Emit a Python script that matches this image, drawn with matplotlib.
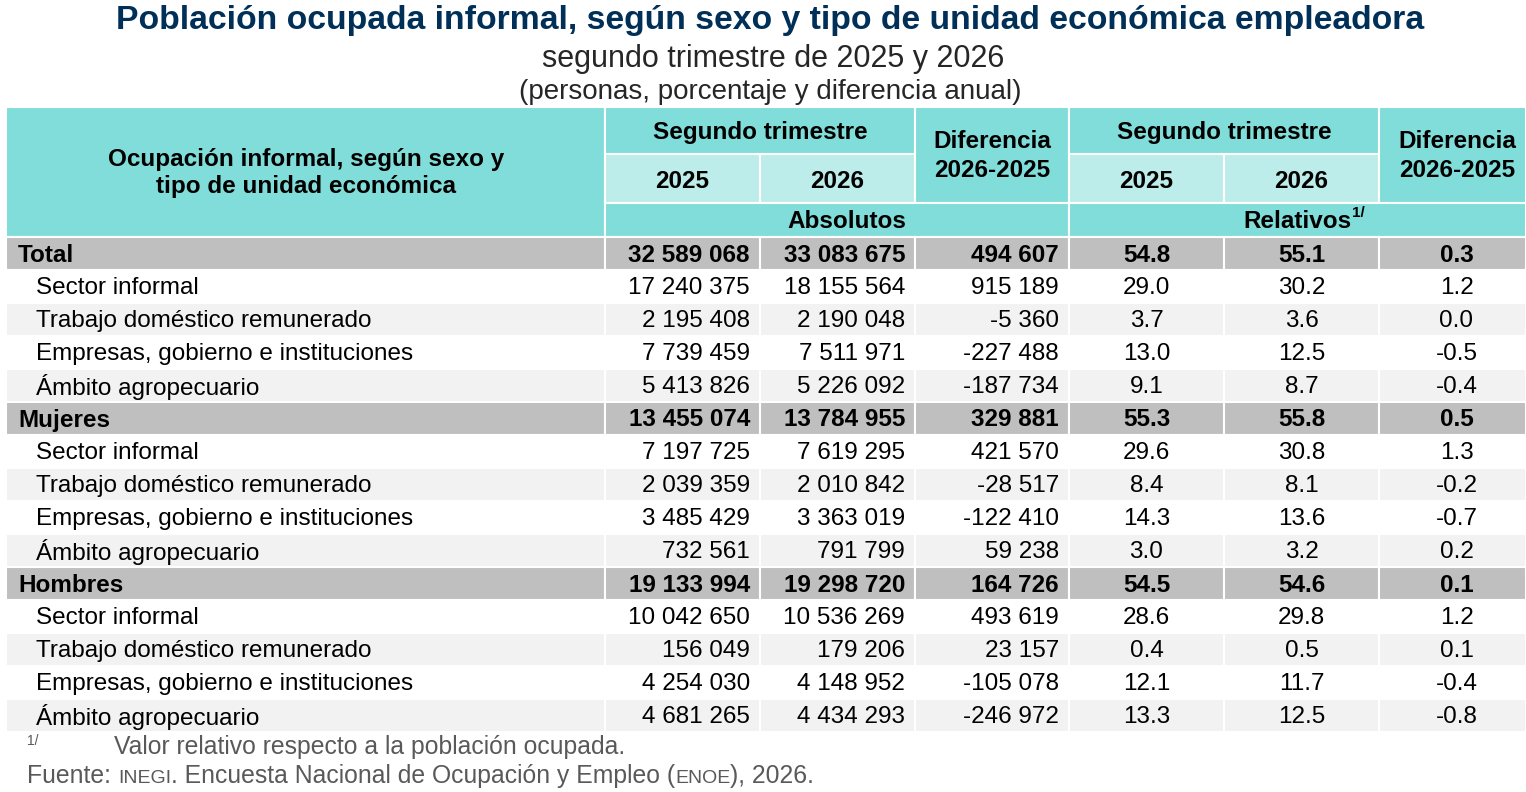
import matplotlib
matplotlib.use("Agg")
import matplotlib.pyplot as plt
from matplotlib.patches import Rectangle

plt.rcParams['font.family'] = ['Liberation Sans', 'DejaVu Sans']

etiquetas = ["Total", "Sector informal", "Trabajo doméstico remunerado",
             "Empresas, gobierno e instituciones", "Ámbito agropecuario",
             "Mujeres", "Sector informal", "Trabajo doméstico remunerado",
             "Empresas, gobierno e instituciones", "Ámbito agropecuario",
             "Hombres", "Sector informal", "Trabajo doméstico remunerado",
             "Empresas, gobierno e instituciones", "Ámbito agropecuario"]
nivel = [0, 1, 1, 1, 1, 0, 1, 1, 1, 1, 0, 1, 1, 1, 1]
abs_2025 = [32589068, 17240375, 2195408, 7739459, 5413826,
            13455074, 7197725, 2039359, 3485429, 732561,
            19133994, 10042650, 156049, 4254030, 4681265]
abs_2026 = [33083675, 18155564, 2190048, 7511971, 5226092,
            13784955, 7619295, 2010842, 3363019, 791799,
            19298720, 10536269, 179206, 4148952, 4434293]
abs_dif = [494607, 915189, -5360, -227488, -187734,
           329881, 421570, -28517, -122410, 59238,
           164726, 493619, 23157, -105078, -246972]
rel_2025 = [54.8, 29.0, 3.7, 13.0, 9.1,
            55.3, 29.6, 8.4, 14.3, 3.0,
            54.5, 28.6, 0.4, 12.1, 13.3]
rel_2026 = [55.1, 30.2, 3.6, 12.5, 8.7,
            55.8, 30.8, 8.1, 13.6, 3.2,
            54.6, 29.8, 0.5, 11.7, 12.5]
rel_dif = [0.3, 1.2, 0.0, -0.5, -0.4,
           0.5, 1.3, -0.2, -0.7, 0.2,
           0.1, 1.2, 0.1, -0.4, -0.8]

titulo = "Población ocupada informal, según sexo y tipo de unidad económica empleadora"
subtitulo = "segundo trimestre de 2025 y 2026"
unidades = "(personas, porcentaje y diferencia anual)"

TEAL = "#80DDD9"
TEAL_L = "#BDEDEA"
GRIS = "#BFBFBF"
GRIS_L = "#F2F2F2"
NAVY = "#003057"
GRIS_TXT = "#595959"
FS = 17.5

W, H = 1526, 792
fig = plt.figure(figsize=(W / 100, H / 100), dpi=100)
ax = fig.add_axes([0, 0, 1, 1])
ax.set_xlim(0, W)
ax.set_ylim(H, 0)
ax.axis('off')

cols = [6, 605, 760, 915, 1069, 1224, 1379, 1526]
top = 107
y_h1, y_h2, y_h3 = 154, 203, 237
rh = 33


def celda(x0, y0, x1, y1, color):
    ax.add_patch(Rectangle((x0, y0), x1 - x0, y1 - y0, facecolor=color,
                           edgecolor='white', linewidth=1.5))


def fmt(v):
    s = f"{abs(v):,}".replace(",", " ")
    return "-" + s if v < 0 else s


# title block
ax.text(W / 2 + 7, 21, titulo, fontsize=24.3, fontweight='bold', color=NAVY,
        ha='center', va='center')
ax.text(W / 2 + 10, 59, subtitulo, fontsize=22, color="#262626",
        ha='center', va='center')
ax.text(W / 2 + 7, 92, unidades, fontsize=20, color="#262626",
        ha='center', va='center')

# header
hkw = dict(fontsize=FS, fontweight='bold', ha='center', va='center', color='black')
celda(cols[0], top, cols[1], y_h3, TEAL)
ax.text(306, 173, "Ocupación informal, según sexo y\ntipo de unidad económica",
        linespacing=1.22, **hkw)
for a, b in [(1, 3), (4, 6)]:
    celda(cols[a], top, cols[b], y_h1, TEAL)
    ax.text((cols[a] + cols[b]) / 2, 133, "Segundo trimestre", **hkw)
    for k, yr in zip(range(a, b), ["2025", "2026"]):
        celda(cols[k], y_h1, cols[k + 1], y_h2, TEAL_L)
        ax.text((cols[k] + cols[k + 1]) / 2, 181, yr, **hkw)
    celda(cols[b], top, cols[b + 1], y_h2, TEAL)
    ax.text((cols[b] + cols[b + 1]) / 2 + (5 if b == 6 else 0), 156,
            "Diferencia\n2026-2025", linespacing=1.28, **hkw)
celda(cols[1], y_h2, cols[4], y_h3, TEAL)
ax.text(847, 221, "Absolutos", **hkw)
celda(cols[4], y_h2, cols[7], y_h3, TEAL)
t_rel = ax.text(1297, 221, "Relativos", **hkw)

fig.canvas.draw()
r = fig.canvas.get_renderer()
inv = ax.transData.inverted()
bb = t_rel.get_window_extent(r)
x_end = inv.transform((bb.x1, bb.y1))[0]
ax.text(x_end + 1, 213, "1/", fontsize=11, fontweight='bold', ha='left', va='center')

# body
for i, lab in enumerate(etiquetas):
    y0 = y_h3 + rh * i
    yc = y0 + rh / 2 + 1.5
    if nivel[i] == 0:
        color = GRIS
        wt = 'bold'
    else:
        color = GRIS_L if (i % 5) % 2 == 0 else 'white'
        wt = 'normal'
    for k in range(7):
        celda(cols[k], y0, cols[k + 1], y0 + rh, color)
    x_lab = 18 if nivel[i] == 0 else 36
    ax.text(x_lab, yc, lab, fontsize=FS, fontweight=wt, ha='left', va='center')
    for k, v in zip([2, 3, 4], [abs_2025[i], abs_2026[i], abs_dif[i]]):
        ax.text(cols[k] - 10, yc, fmt(v), fontsize=FS, fontweight=wt,
                ha='right', va='center')
    for k, v in zip([4, 5, 6], [rel_2025[i], rel_2026[i], rel_dif[i]]):
        xc = (cols[k] + cols[k + 1]) / 2 + (4 if k == 6 else 0)
        ax.text(xc, yc, f"{v:.1f}", fontsize=FS, fontweight=wt,
                ha='center', va='center')

# footer
ax.text(27, 741, "1/", fontsize=10, color=GRIS_TXT, ha='left', va='center')
ax.text(114, 747, "Valor relativo respecto a la población ocupada.",
        fontsize=17.8, color=GRIS_TXT, ha='left', va='center')

partes = [("Fuente: ", 17.8), ("INEGI", 14), (". Encuesta Nacional de Ocupación y Empleo (", 17.8),
          ("ENOE", 14), ("), 2026.", 17.8)]
x = 27
fig.canvas.draw()
for txt, fs in partes:
    t = ax.text(x, 783, txt, fontsize=fs, color=GRIS_TXT, ha='left', va='baseline')
    bb = t.get_window_extent(r)
    x = inv.transform((bb.x1, bb.y0))[0]

fig.savefig("out.png", dpi=100)
